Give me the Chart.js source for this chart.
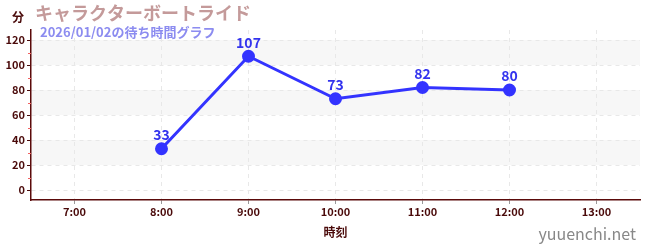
<!DOCTYPE html>
<html><head><meta charset="utf-8">
<script src="https://cdn.jsdelivr.net/npm/chart.js@4"></script>
<style>html,body{margin:0;padding:0;background:#fff}#w{width:650px;height:250px;position:relative}</style>
</head><body><div id="w"><canvas id="c" width="650" height="250"></canvas></div>
<script>
const categories = ["7:00","8:00","9:00","10:00","11:00","12:00","13:00"];
const waitTimes = [null,33,107,73,82,80,null];
const yTicks = [0,20,40,60,80,100,120];
const bands = [[20,40],[60,80],[100,120]];
const minorTicks = [10,30,50,70,90,110];
const titleText = "キャラクターボートライド";
const subtitleText = "2026/01/02の待ち時間グラフ";
const yTitle = "分";
const xTitle = "時刻";
const watermark = "yuuenchi.net";
const FONT = "'Noto Sans CJK JP','Noto Sans',sans-serif";

const deco = {
  id:'deco',
  beforeDraw(chart){
    const {ctx, chartArea:a, scales:{y}} = chart;
    ctx.save();
    ctx.fillStyle = '#f7f7f7';
    bands.forEach(([lo,hi])=>{
      const t=y.getPixelForValue(hi), b=y.getPixelForValue(lo);
      ctx.fillRect(a.left,t,a.right-a.left,b-t);
    });
    ctx.restore();
  },
  afterDraw(chart){
    const {ctx, chartArea:a, scales:{y}} = chart;
    ctx.save();
    ctx.setLineDash([]);
    ctx.strokeStyle='#f06060'; ctx.lineWidth=1;
    minorTicks.forEach(v=>{const p=Math.round(y.getPixelForValue(v))+0.5;ctx.beginPath();ctx.moveTo(a.left-3,p);ctx.lineTo(a.left,p);ctx.stroke();});
    const meta=chart.getDatasetMeta(0);
    ctx.fillStyle='#3333ee'; ctx.font='bold 14px '+FONT; ctx.textAlign='center'; ctx.textBaseline='bottom';
    meta.data.forEach((pt,i)=>{const v=waitTimes[i]; if(v==null) return; ctx.fillText(String(v),pt.x,pt.y-7);});
    ctx.textBaseline='middle'; ctx.textAlign='left';
    ctx.fillStyle='#4a0a0a'; ctx.font='bold 12px '+FONT; ctx.fillText(yTitle,12,17);
    ctx.fillStyle='#c49a9a'; ctx.font='bold 18px '+FONT; ctx.fillText(titleText,35,13);
    ctx.fillStyle='#8c8cf0'; ctx.font='bold 13px '+FONT; ctx.fillText(subtitleText,40,32);
    ctx.fillStyle='#888'; ctx.font='16px '+FONT; ctx.textAlign='right'; ctx.fillText(watermark,636,234);
    ctx.restore();
  }
};

new Chart(document.getElementById('c'),{
  type:'line',
  data:{labels:categories,datasets:[{data:waitTimes,borderColor:'#3333ff',backgroundColor:'#3333ff',borderWidth:3,pointRadius:5,pointHoverRadius:5,spanGaps:false,tension:0}]},
  options:{
    responsive:false,animation:false,devicePixelRatio:1,
    layout:{padding:{top:30,right:10,left:0,bottom:0}},
    plugins:{legend:{display:false},tooltip:{enabled:false}},
    scales:{
      x:{offset:true,
        grid:{color:'#e8e8e8',tickColor:'#999',tickLength:4,drawTicks:true,offset:false},
        border:{color:'#5a0a0a',width:1.5,dash:[4,4]},
        ticks:{color:'#4a0a0a',font:{family:FONT,size:11,weight:'bold'},padding:1,maxRotation:0},
        title:{display:true,text:xTitle,color:'#4a0a0a',font:{family:FONT,size:12,weight:'bold'},padding:{top:6,bottom:10}},
        afterFit(s){s.height=50;}
      },
      y:{min:-8,max:128,
        afterBuildTicks(s){s.ticks=yTicks.map(v=>({value:v}));},
        grid:{color:'#e8e8e8',tickColor:'#4a0a0a',tickLength:4},
        border:{color:'#5a0a0a',width:1.5,dash:[4,4]},
        ticks:{color:'#4a0a0a',font:{family:FONT,size:11,weight:'bold'},padding:2},
        afterFit(s){s.width=31;}
      }
    }
  },
  plugins:[deco]
});
</script></body></html>
